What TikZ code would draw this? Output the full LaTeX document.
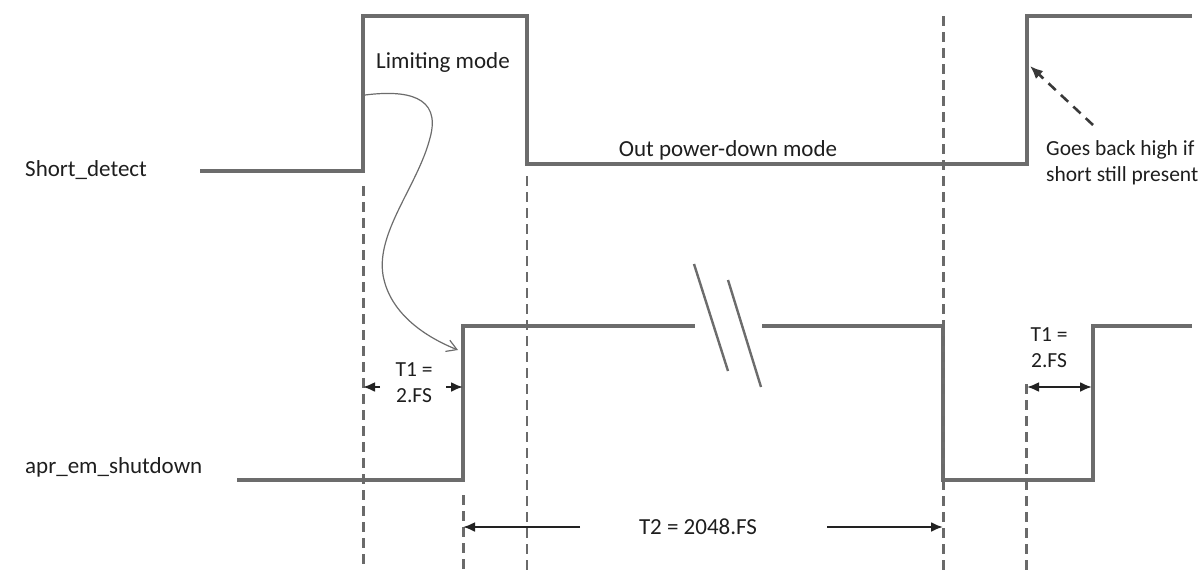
\documentclass[tikz,border=0pt]{standalone}
\usepackage{fontspec}
\setmainfont{Carlito}
\usetikzlibrary{arrows.meta}
\definecolor{sig}{HTML}{6C6C6C}
\definecolor{dsh}{HTML}{6A6A6A}
\definecolor{txt}{HTML}{1E1E1E}
\definecolor{dim}{HTML}{222222}
\tikzset{
  signal/.style={line width=3.2pt, color=sig, line join=miter},
  guide/.style={line width=3pt, color=dsh, dash pattern=on 10pt off 6pt},
  lbl/.style={inner sep=0pt, text=txt, font=\fontsize{23}{28}\selectfont},
  smalllbl/.style={inner sep=0pt, text=txt, font=\fontsize{21.5}{26}\selectfont},
  dimarrow/.style={line width=2.2pt, color=dim, -{Latex[length=12pt,width=10pt]}},
  curvearrow/.style={line width=1.2pt, color=sig, -{Straight Barb[length=10pt,width=12pt]}},
  notearrow/.style={line width=2.6pt, color=dim!75!gray, dash pattern=on 10pt off 7pt, -{Latex[length=13pt,width=11pt]}}
}
\begin{document}
\begin{tikzpicture}[x=1pt,y=-1pt]
\useasboundingbox (0,0) rectangle (1199,570);
% --- Short_detect waveform
\coordinate (s0) at (200,171);
\coordinate (s1) at (363,171);
\coordinate (s2) at (363,16);
\coordinate (s3) at (527,16);
\coordinate (s4) at (527,164);
\coordinate (s5) at (1027,164);
\coordinate (s6) at (1027,16);
\coordinate (s7) at (1192,16);
\draw[signal] (s0) -- (s1) -- (s2) -- (s3) -- (s4) -- (s5) -- (s6) -- (s7);
% --- apr_em_shutdown waveform
\coordinate (a0) at (237,480);
\coordinate (a1) at (463,480);
\coordinate (a2) at (463,326);
\coordinate (a3) at (695,326);
\coordinate (a4) at (762,326);
\coordinate (a5) at (943,326);
\coordinate (a6) at (943,480);
\coordinate (a7) at (1093,480);
\coordinate (a8) at (1093,326);
\coordinate (a9) at (1192,326);
\draw[signal] (a0) -- (a1) -- (a2) -- (a3);
\draw[signal] (a4) -- (a5) -- (a6) -- (a7) -- (a8) -- (a9);
% break marks
\coordinate (b1) at (694,264);
\coordinate (b2) at (728,371);
\coordinate (b3) at (728,280);
\coordinate (b4) at (761,387);
\draw[line width=2.4pt, color=sig] (b1) -- (b2);
\draw[line width=2.4pt, color=sig] (b3) -- (b4);
% --- dashed guide lines
\coordinate (g1t) at (363,186); \coordinate (g1b) at (363,570);
\coordinate (g2t) at (527,176); \coordinate (g2b) at (527,570);
\coordinate (g3t) at (463,495); \coordinate (g3b) at (463,570);
\coordinate (g4t) at (943,16);  \coordinate (g4b) at (943,570);
\coordinate (g5t) at (1026,384); \coordinate (g5b) at (1026,570);
\draw[guide] (g1t) -- (g1b);
\draw[guide, line width=2.3pt] (g2t) -- (g2b);
\draw[guide] (g3t) -- (g3b);
\draw[guide] (g4t) -- (g4b);
\draw[guide] (g5t) -- (g5b);
% --- labels
\node[lbl, anchor=west] (lsd) at (25,170) {Short\_detect};
\node[lbl, anchor=west] (lapr) at (25,467) {apr\_em\_shutdown};
\node[lbl] (llim) at (443,62) {Limiting mode};
\node[lbl] (lout) at (728,150) {Out power-down mode};
\node[smalllbl, anchor=west, align=left] (lgoes) at (1046,163) {Goes back high if\\short still present};
\node[smalllbl, align=center] (lt1a) at (414,383) {T1 =\\2.FS};
\node[smalllbl, align=center] (lt1b) at (1049,348) {T1 =\\2.FS};
\node[lbl] (lt2) at (698,527) {T2 = 2048.FS};
% --- T1 (first) dimension arrowheads
\coordinate (t1l0) at (380,387); \coordinate (t1l1) at (363,387);
\coordinate (t1r0) at (446,387); \coordinate (t1r1) at (463,387);
\draw[dimarrow] (t1l0) -- (t1l1);
\draw[dimarrow] (t1r0) -- (t1r1);
% --- T1 (second) dimension
\coordinate (t1c0) at (1027,387); \coordinate (t1c1) at (1092,387);
\draw[dimarrow, {Latex[length=12pt,width=10pt]}-{Latex[length=12pt,width=10pt]}] (t1c0) -- (t1c1);
% --- T2 dimension
\coordinate (t2l0) at (580,527); \coordinate (t2l1) at (463,527);
\coordinate (t2r0) at (827,527); \coordinate (t2r1) at (943,527);
\draw[dimarrow] (t2l0) -- (t2l1);
\draw[dimarrow] (t2r0) -- (t2r1);
% --- causal curved arrow
\coordinate (c0) at (365,95);
\coordinate (c1) at (458,350);
\draw[curvearrow] (c0) .. controls (405,90) and (442,95) .. (430,138)
  .. controls (418,185) and (376,232) .. (383,275)
  .. controls (390,315) and (428,338) .. (c1);
% --- note arrow
\coordinate (n0) at (1093,125);
\coordinate (n1) at (1030,66);
\draw[notearrow] (n0) -- (n1);
\end{tikzpicture}
\end{document}
